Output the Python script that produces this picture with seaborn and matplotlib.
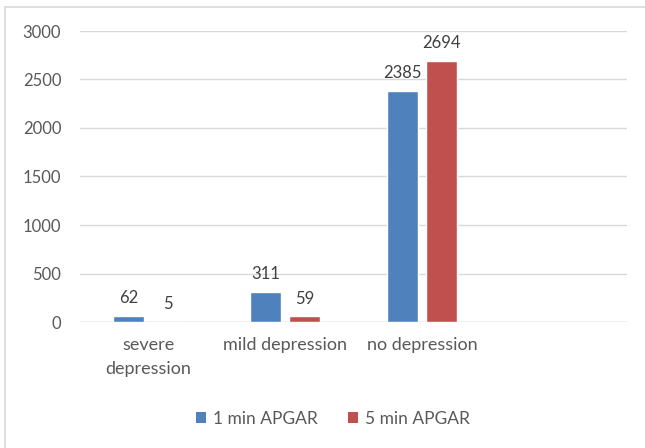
import matplotlib
matplotlib.use("Agg")
import matplotlib.pyplot as plt
from matplotlib.patches import Patch
from matplotlib.lines import Line2D
import seaborn as sns
import pandas as pd

# APGAR depression categories and counts per scoring time
categories = ["severe\ndepression", "mild depression", "no depression"]
series_names = ["1 min APGAR", "5 min APGAR"]
apgar_1min = [62, 311, 2385]
apgar_5min = [5, 59, 2694]
y_ticks = [0, 500, 1000, 1500, 2000, 2500, 3000]

colors = ["#4F81BD", "#C0504D"]
text_gray = "#595959"
label_gray = "#404040"
grid_gray = "#D9D9D9"

df = pd.DataFrame({
    "category": categories * 2,
    "series": [series_names[0]] * 3 + [series_names[1]] * 3,
    "count": apgar_1min + apgar_5min,
})

sns.set_theme(style="white")
plt.rcParams["font.family"] = ["Lato", "DejaVu Sans"]

fig = plt.figure(figsize=(6.45, 4.48), dpi=100)
ax = fig.add_axes([80 / 645, 126 / 448, 547 / 645, 291 / 448])

sns.barplot(data=df, x="category", y="count", hue="series", order=categories,
            hue_order=series_names, palette=colors, width=0.567, gap=0.2,
            saturation=1, legend=False, ax=ax, errorbar=None)

# one spare empty category slot on the right, as in the original layout
ax.set_xlim(-0.5, 3.5)
ax.set_ylim(0, 3000)
ax.set_yticks(y_ticks)
ax.set_xlabel("")
ax.set_ylabel("")

ax.grid(axis="y", color=grid_gray, linewidth=1)
ax.set_axisbelow(True)
for s in ax.spines.values():
    s.set_visible(False)
ax.axhline(0, color=grid_gray, linewidth=1, zorder=0.5)

ax.tick_params(axis="y", length=0, pad=13.5, labelsize=12, labelcolor=text_gray)
ax.tick_params(axis="x", length=0, pad=11, labelsize=13, labelcolor=text_gray)
for lbl in ax.get_xticklabels():
    lbl.set_linespacing(1.6)

for cont in ax.containers:
    ax.bar_label(cont, labels=[f"{int(v)}" for v in cont.datavalues],
                 padding=7, fontsize=12, color=label_gray)

handles = [Patch(facecolor=c, edgecolor="none") for c in colors]
fig.legend(handles, series_names, loc="center", bbox_to_anchor=(333 / 645, 29 / 448),
           ncol=2, frameon=False, fontsize=12.5, labelcolor=text_gray,
           handlelength=0.6, handleheight=0.6, handletextpad=0.4, columnspacing=1.7)

# chart-area outline along the top and left edges
fig.add_artist(Line2D([5 / 645, 1.0], [1 - 7 / 448, 1 - 7 / 448],
                      transform=fig.transFigure, color=grid_gray, linewidth=1.2))
fig.add_artist(Line2D([5 / 645, 5 / 645], [0.0, 1 - 7 / 448],
                      transform=fig.transFigure, color=grid_gray, linewidth=1.2))

fig.savefig("out.png", dpi=100)
